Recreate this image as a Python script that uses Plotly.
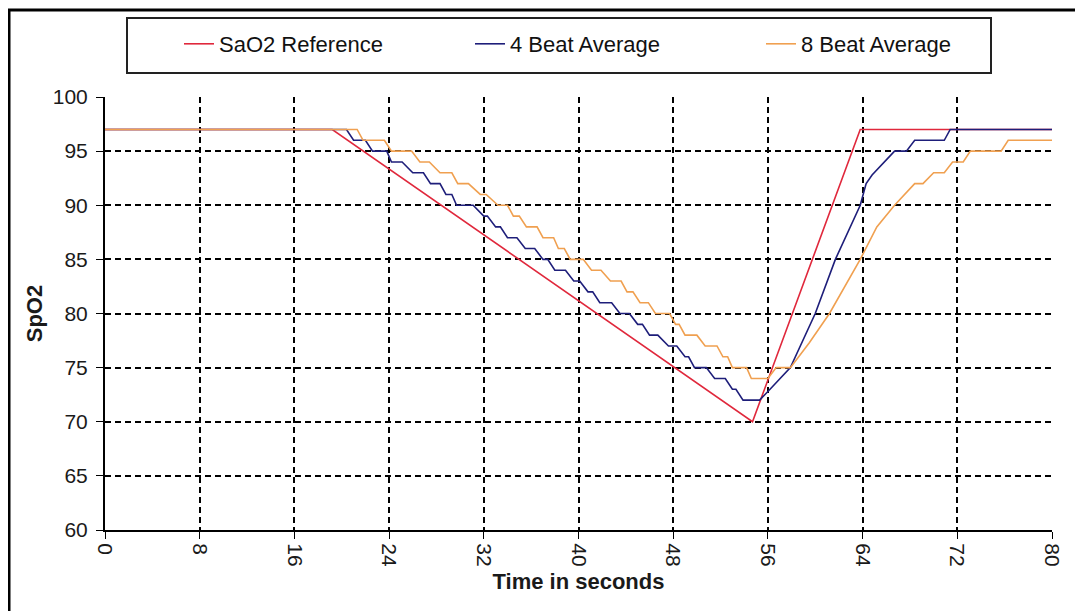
import plotly.graph_objects as go

# ---- data ----
ref_time = [0, 19.2, 54.7, 63.8, 80]
ref_spo2 = [97, 97, 70, 97, 97]

beat4_time = [0, 20.4, 21.0, 22.0, 22.6, 23.8, 24.2, 25.1, 26.0, 26.9,
              27.5, 28.3, 28.8, 29.3, 29.7, 31.1, 32.0, 32.3, 33.0, 33.4,
              34.0, 34.8, 35.5, 36.3, 37.0, 37.4, 38.0, 38.9, 39.6, 40.1,
              40.8, 41.2, 41.8, 42.8, 43.5, 44.3, 45.0, 45.4, 46.0, 46.7,
              47.6, 48.3, 49.0, 49.3, 49.8, 50.8, 51.5, 52.4, 53.0, 53.3,
              53.9, 55.3, 56.0, 57.9, 60.0, 61.7, 63.8, 64.3, 64.8, 66.7,
              67.7, 68.4, 70.9, 71.4, 80]
beat4_spo2 = [97, 97, 96, 96, 95, 95, 94, 94, 93, 93,
              92, 92, 91, 91, 90, 90, 89, 89, 88, 88,
              87, 87, 86, 86, 85, 85, 84, 84, 83, 83,
              82, 82, 81, 81, 80, 80, 79, 79, 78, 78,
              77, 77, 76, 76, 75, 75, 74, 74, 73, 73,
              72, 72, 72.8, 75, 80, 85, 90, 92, 92.8, 95,
              95, 96, 96, 97, 97]

beat8_time = [0, 21.3, 21.8, 23.6, 24.2, 25.9, 26.6, 27.4, 28.3, 29.3,
              29.8, 30.7, 31.7, 32.2, 33.2, 34.0, 34.5, 35.0, 35.6, 36.5,
              37.0, 37.9, 38.3, 38.8, 39.3, 40.4, 41.1, 41.9, 42.7, 43.6,
              44.1, 44.6, 45.2, 45.9, 46.5, 47.7, 48.2, 48.5, 49.0, 50.0,
              50.7, 51.7, 52.2, 52.6, 53.0, 54.2, 54.6, 56.0, 56.7, 57.9,
              59.5, 61.2, 63.8, 65.2, 66.7, 68.4, 69.1, 70.0, 70.9, 71.6,
              72.5, 73.1, 75.7, 76.3, 80]
beat8_spo2 = [97, 97, 96, 96, 95, 95, 94, 94, 93, 93,
              92, 92, 91, 91, 90, 90, 89, 89, 88, 88,
              87, 87, 86, 86, 85, 85, 84, 84, 83, 83,
              82, 82, 81, 81, 80, 80, 79, 79, 78, 78,
              77, 77, 76, 76, 75, 75, 74, 74, 75, 75,
              77.3, 80, 85, 88, 90, 92, 92, 93, 93, 94,
              94, 95, 95, 96, 96]

series_names = ["SaO2 Reference", "4 Beat Average", "8 Beat Average"]
series_colors = ["#e0283c", "#1e1e7a", "#f0a050"]

x_ticks = [0, 8, 16, 24, 32, 40, 48, 56, 64, 72, 80]
y_ticks = [60, 65, 70, 75, 80, 85, 90, 95, 100]

FONT = "Liberation Sans, Arial, sans-serif"

fig = go.Figure()
for t, v, name, col in zip([ref_time, beat4_time, beat8_time],
                           [ref_spo2, beat4_spo2, beat8_spo2],
                           series_names, series_colors):
    fig.add_trace(go.Scatter(x=t, y=v, mode="lines", name=name,
                             line=dict(color=col, width=1.6)))

# page body adds an 8px offset; figure is sized/positioned to compensate
OFF = 8
W, H = 1083 - OFF, 611 - OFF
L, T = 105 - OFF, 97 - OFF
R = W - (1052 - OFF)
B = H - (530 - OFF)
pw, ph = W - L - R, H - T - B

def px_x(p):  # p: x pixel in reference image
    return (p - OFF - L) / pw

def px_y(p):  # p: y pixel in reference image
    return (H - B - (p - OFF)) / ph

fig.update_layout(
    width=W, height=H,
    margin=dict(l=L, r=R, t=T, b=B),
    paper_bgcolor="white", plot_bgcolor="white",
    font=dict(family=FONT, size=21, color="#1a1a1a"),
    showlegend=True,
    legend=dict(orientation="h", xref="container", yref="container",
                x=(179 - OFF) / W, y=1 - (44 - OFF) / H, xanchor="left", yanchor="middle",
                bgcolor="rgba(0,0,0,0)", borderwidth=0,
                font=dict(family=FONT, size=22, color="#111"),
                entrywidth=246, entrywidthmode="pixels",
                traceorder="normal"),
    xaxis=dict(range=[0, 80], tickvals=x_ticks, ticktext=[str(v) for v in x_ticks],
               tickangle=90, showgrid=True, gridcolor="#000", gridwidth=1.6,
               griddash="6px,4px", showline=True, linecolor="#000", linewidth=2,
               ticks="outside", ticklen=7, tickcolor="#000", zeroline=False,
               title=dict(text="<b>Time in seconds</b>", font=dict(family=FONT, size=22),
                          standoff=8)),
    yaxis=dict(range=[60, 100], tickvals=y_ticks, ticktext=[str(v) for v in y_ticks],
               showgrid=True, gridcolor="#000", gridwidth=1.6,
               griddash="6px,4px", showline=True, linecolor="#000", linewidth=2,
               ticks="outside", ticklen=7, tickcolor="#000", zeroline=False,
               ticklabelstandoff=4,
               title=dict(text="<b>SpO2</b>", font=dict(family=FONT, size=22),
                          standoff=4)),
    shapes=[
        dict(type="rect", xref="paper", yref="paper",
             x0=px_x(9), x1=px_x(1300), y0=px_y(900), y1=px_y(10),
             line=dict(color="#000", width=3), fillcolor="rgba(0,0,0,0)", layer="above"),
        dict(type="rect", xref="paper", yref="paper",
             x0=px_x(127), x1=px_x(991), y0=px_y(73), y1=px_y(18),
             line=dict(color="#222", width=2), fillcolor="rgba(0,0,0,0)", layer="above"),
    ],
)

fig.write_html("out.html")
